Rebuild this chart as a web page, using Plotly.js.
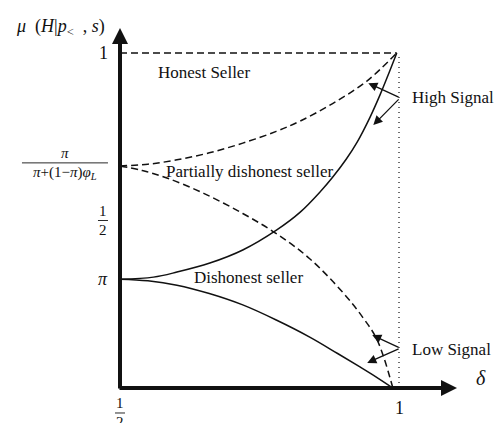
<!DOCTYPE html>
<html>
<head>
<meta charset="utf-8">
<script src="https://cdn.plot.ly/plotly-3.0.1.min.js"></script>
<style>
  html, body { margin: 0; padding: 0; background: #fff; }
  #chart { width: 494px; height: 423px; }
</style>
</head>
<body>
<div id="chart"></div>
<script>
// ── Données ────────────────────────────────────────────
const xHighSolid = [0.5, 0.560, 0.602, 0.661, 0.720, 0.781, 0.823, 0.860, 0.881, 0.905, 0.925, 0.948, 0.966, 0.980, 0.996];
const yHighSolid = [0.325, 0.331, 0.346, 0.373, 0.412, 0.472, 0.525, 0.588, 0.629, 0.682, 0.734, 0.808, 0.875, 0.932, 1.0];

const xHighDash = [0.5, 0.550, 0.602, 0.660, 0.720, 0.780, 0.823, 0.881, 0.943, 0.996];
const yHighDash = [0.663, 0.668, 0.681, 0.702, 0.731, 0.766, 0.797, 0.849, 0.917, 1.0];

const xLowSolid = [0.5, 0.550, 0.602, 0.660, 0.720, 0.780, 0.840, 0.890, 0.930, 0.960, 0.989];
const yLowSolid = [0.325, 0.320, 0.307, 0.282, 0.248, 0.203, 0.152, 0.103, 0.063, 0.032, 0.0];

const xLowDash = [0.5, 0.540, 0.584, 0.650, 0.720, 0.781, 0.840, 0.900, 0.935, 0.961, 0.989];
const yLowDash = [0.663, 0.649, 0.627, 0.581, 0.521, 0.460, 0.386, 0.284, 0.211, 0.143, 0.0];

const xHonest = [0.5, 0.996];
const yHonest = [1.0, 1.0];

const xLimit = [1.0, 1.0];
const yLimit = [0.0, 1.0];

const PI_LEVEL  = 0.325;

// ── Repère pixel -> données (figure entière = zone de tracé) ──
const PX_PER_X = 558;   // px par unité de delta
const PX_PER_Y = 335;   // px par unité de mu
const X0 = 0.5 - 120 / PX_PER_X;
const Y0 = -(423 - 388) / PX_PER_Y;
const xr = [X0, X0 + 494 / PX_PER_X];
const yr = [Y0, Y0 + 423 / PX_PER_Y];

const FONT = 'Liberation Serif, DejaVu Serif, Noto Serif, serif';
const INK  = '#111';

function curve(x, y, dash) {
  return {
    x, y, type: 'scatter', mode: 'lines', hoverinfo: 'skip',
    line: { color: INK, width: 1.5, shape: 'spline', smoothing: 1, dash: dash || 'solid' },
  };
}

function label(x, y, text, size, opts) {
  return Object.assign({
    x, y, xref: 'x', yref: 'y', text, showarrow: false,
    font: { family: FONT, size: size, color: INK },
  }, opts || {});
}

function arrow(xTail, yTail, xHead, yHead, width, size) {
  return {
    x: xHead, y: yHead, ax: xTail, ay: yTail, xref: 'x', yref: 'y', axref: 'x', ayref: 'y',
    text: '', showarrow: true, arrowhead: 2, arrowsize: size, arrowwidth: width,
    arrowcolor: INK, standoff: 0, startstandoff: 0,
  };
}

// fraction : numérateur / barre / dénominateur
const shapes = [];
function fraction(x, y, num, den, size, barPx) {
  const half = barPx / 2 / PX_PER_X;
  shapes.push({ type: 'line', xref: 'x', yref: 'y', x0: x - half, x1: x + half, y0: y, y1: y,
    line: { color: INK, width: 0.9 } });
  return [
    label(x, y, num, size, { yanchor: 'bottom', yshift: 0 }),
    label(x, y, den, size, { yanchor: 'top', yshift: 1 }),
  ];
}

const traces = [
  curve(xHonest, yHonest, '7px,4px'),
  { x: xLimit, y: yLimit, type: 'scatter', mode: 'lines', hoverinfo: 'skip',
    line: { color: INK, width: 1.2, dash: '1px,4px' } },
  curve(xHighDash, yHighDash, '7px,4px'),
  curve(xLowDash, yLowDash, '7px,4px'),
  curve(xHighSolid, yHighSolid),
  curve(xLowSolid, yLowSolid),
];

const annotations = [
  // axes avec flèches
  arrow(0.5, -0.006, 0.5, 1.0746, 4, 0.8),
  arrow(0.5 - 2 / PX_PER_X, 0, 1.104, 0, 4, 0.8),

  // graduations y
  label(0.4821, 1.0, '1', 18, { xanchor: 'right' }),
  label(0.4821, PI_LEVEL, '<i>π</i>', 18, { xanchor: 'right' }),
  ...fraction(0.4695, 0.5, '1', '2', 15, 10),
  ...fraction(0.4014, 0.672, '<i>π</i>', '<i>π</i>+(1−<i>π</i>)<i>φ<sub>L</sub></i>', 15, 86),

  // graduations x
  label(1.0, -0.0597, '1', 18),
  ...fraction(0.5, -0.0746, '1', '2', 15, 10),

  // titres d'axes
  label(0.3925, 1.0776, '<i>μ</i>&nbsp;&nbsp;(<i>H</i>|<i>p</i><sub>&lt;</sub>&nbsp;&nbsp;,&nbsp;<i>s</i>)', 18),
  label(1.147, 0.030, '<i>δ</i>', 20),

  // étiquettes des courbes
  label(0.6505, 0.943, 'Honest Seller', 17),
  label(0.7312, 0.645, 'Partially dishonest seller', 17),
  label(0.7294, 0.331, 'Dishonest seller', 17),
  label(1.0197, 0.866, 'High Signal', 17, { xanchor: 'left' }),
  label(1.0197, 0.116, 'Low Signal', 17, { xanchor: 'left' }),

  // flèches des signaux
  arrow(1.002, 0.866, 0.945, 0.910, 1.3, 1.4),
  arrow(1.002, 0.866, 0.954, 0.785, 1.3, 1.4),
  arrow(1.002, 0.119, 0.952, 0.158, 1.3, 1.4),
  arrow(1.002, 0.119, 0.943, 0.075, 1.3, 1.4),
];

const axisOff = { visible: false, showgrid: false, zeroline: false, fixedrange: true };

Plotly.newPlot('chart', traces, {
  width: 494, height: 423,
  margin: { t: 0, b: 0, l: 0, r: 0, pad: 0 },
  paper_bgcolor: '#fff', plot_bgcolor: '#fff',
  font: { family: FONT, color: INK },
  showlegend: false,
  xaxis: { ...axisOff, range: xr },
  yaxis: { ...axisOff, range: yr },
  annotations, shapes,
}, { staticPlot: true, displayModeBar: false });
</script>
</body>
</html>
